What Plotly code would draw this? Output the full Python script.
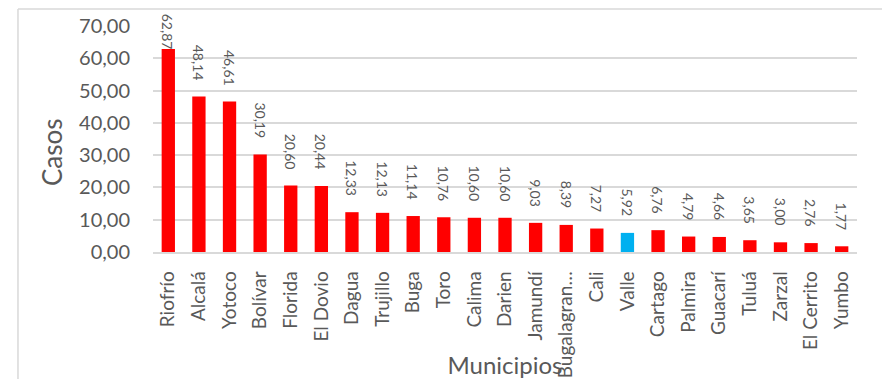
import plotly.graph_objects as go

municipios = ["Riofrío", "Alcalá", "Yotoco", "Bolívar", "Florida", "El Dovio",
              "Dagua", "Trujillo", "Buga", "Toro", "Calima", "Darien", "Jamundí",
              "Bugalagran…", "Cali", "Valle", "Cartago", "Palmira", "Guacarí",
              "Tuluá", "Zarzal", "El Cerrito", "Yumbo"]
casos = [62.87, 48.14, 46.61, 30.19, 20.60, 20.44, 12.33, 12.13, 11.14, 10.76,
         10.60, 10.60, 9.03, 8.39, 7.27, 5.92, 6.76, 4.79, 4.66, 3.65, 3.00,
         2.76, 1.77]
y_ticks = [0, 10, 20, 30, 40, 50, 60, 70]

RED = "#FF0000"
BLUE = "#00B0F0"
TEXT = "#595959"
GRID = "#D9D9D9"
FONT = "Lato"

colors = [BLUE if m == "Valle" else RED for m in municipios]

fig = go.Figure(go.Bar(
    x=municipios, y=casos, marker=dict(color=colors, line=dict(width=0)),
    hoverinfo="x+y",
))

# value labels, rotated, above each bar (the tallest one is kept inside the frame)
annotations = []
for m, v in zip(municipios, casos):
    annotations.append(dict(
        x=m, y=v, xref="x", yref="y",
        text=f"{v:.2f}".replace(".", ","),
        textangle=90, showarrow=False,
        xanchor="center", yanchor="bottom",
        yshift=14 if v < 55 else -3,
        font=dict(family=FONT, size=14, color=TEXT),
    ))

# y-axis title
annotations.append(dict(
    x=52, y=152, xref="paper", yref="paper", text="Casos",
    textangle=-90, showarrow=False, xanchor="center", yanchor="middle",
    font=dict(family=FONT, size=26, color=TEXT),
))

fig.update_layout(
    width=882, height=379,
    margin=dict(l=153, r=25, t=26, b=127),
    paper_bgcolor="white", plot_bgcolor="white",
    separators=",.",
    bargap=0.565,
    showlegend=False,
    font=dict(family=FONT, color=TEXT),
    shapes=[
        dict(type="line", xref="paper", yref="paper",
             x0=-0.1918, x1=1.2, y0=1.0752, y1=1.0752,
             line=dict(color=GRID, width=1.5)),
        dict(type="line", xref="paper", yref="paper",
             x0=-0.1918, x1=-0.1918, y0=1.0752, y1=-1,
             line=dict(color=GRID, width=1.5)),
    ],
)

# place the "Casos" title in pixel terms of the plot area
plot_w, plot_h = 882 - 153 - 25, 379 - 26 - 127
a = annotations[-1]
a["x"] = (a["x"] - 153) / plot_w
a["y"] = (379 - 127 - a["y"]) / plot_h
fig.update_layout(annotations=annotations)

fig.update_yaxes(
    range=[0, 70], tickvals=y_ticks, tickformat=".2f",
    showgrid=True, gridcolor=GRID, gridwidth=1.5,
    zeroline=False, showline=False,
    tickfont=dict(family=FONT, size=20, color=TEXT),
    ticklabelstandoff=22,
    automargin=False,
)
fig.update_xaxes(
    tickangle=-90,
    showline=True, linecolor=GRID, linewidth=1.5,
    tickfont=dict(family=FONT, size=19, color=TEXT),
    ticklabelstandoff=10,
    title=dict(text="Municipios", font=dict(family=FONT, size=24, color=TEXT),
               standoff=0),
    automargin=False,
)

fig.write_html("out.html")
